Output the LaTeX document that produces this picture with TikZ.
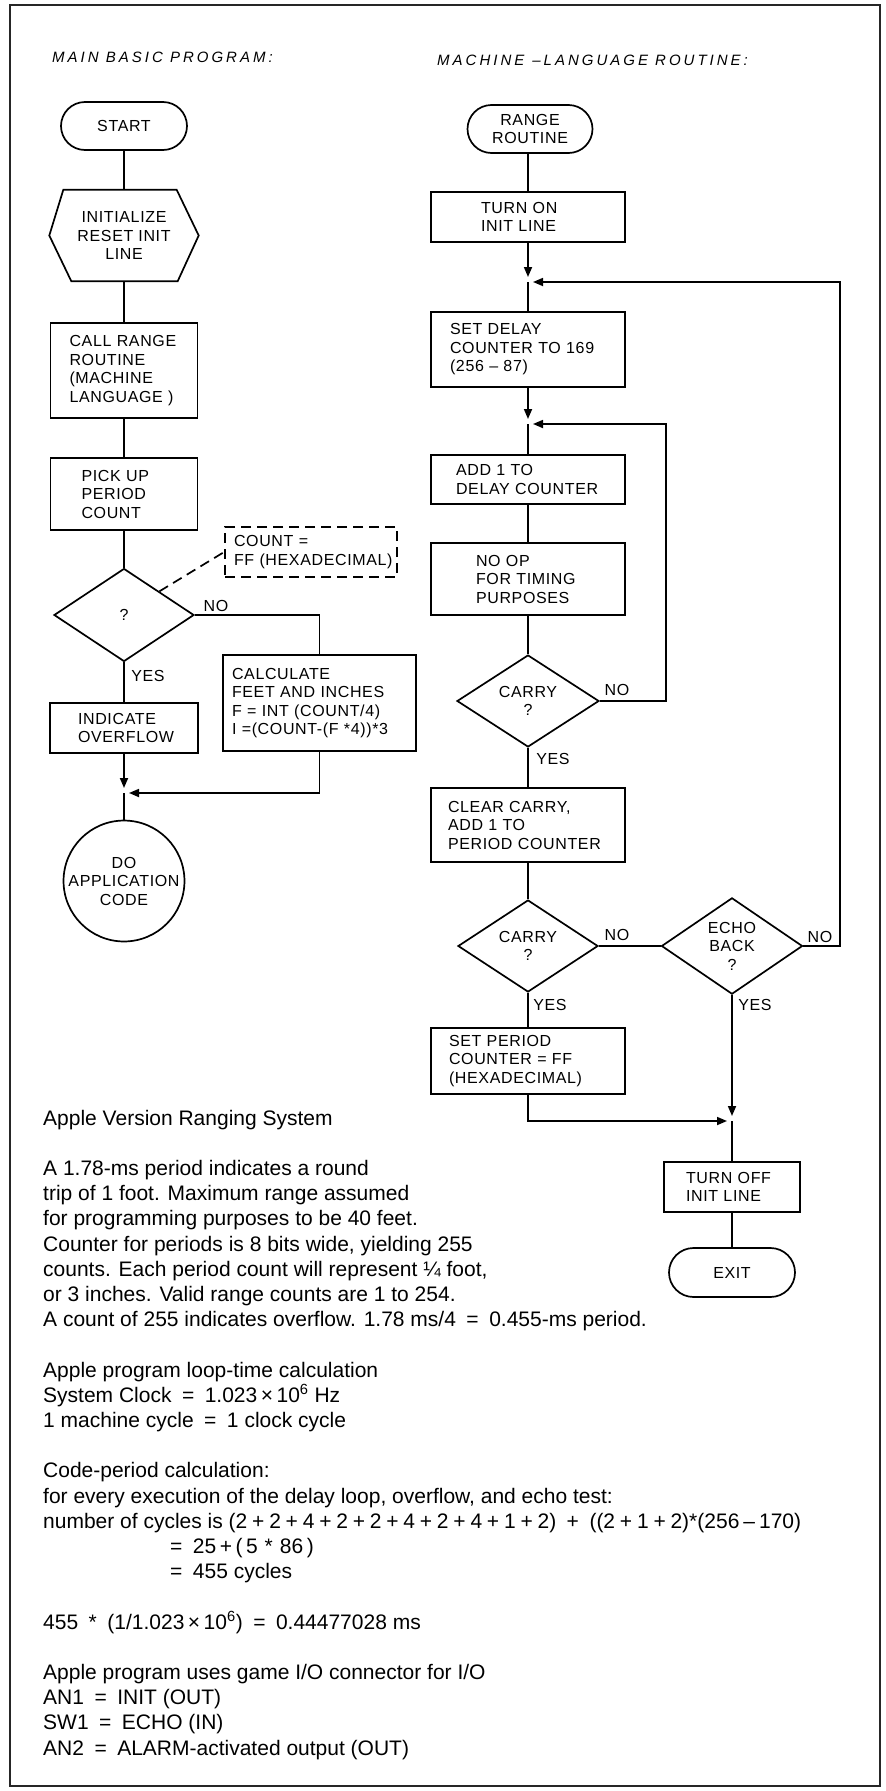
\documentclass[tikz,border=0pt]{standalone}
\usepackage{fontspec}
\setmainfont{Liberation Sans}
\newfontfamily\fcfont[LetterSpace=4]{Liberation Sans}
\newfontfamily\ttlfont[LetterSpace=20]{Liberation Sans}
\usetikzlibrary{shapes.geometric,shapes.misc,arrows.meta,calc}
\newcommand\pl{\kern4.8pt+\kern4.8pt}
\begin{document}
\begin{tikzpicture}[x=1pt,y=-1pt,
  fc/.style={font={\fcfont\fontsize{16}{18.5}\selectfont\hyphenpenalty=10000\exhyphenpenalty=10000\hbadness=10000\hfuzz=200pt}},
  ln/.style={line width=1.7pt},
  arr/.style={ln,-{Triangle[length=10pt,width=8pt]}},
  box/.style={fc,draw,ln,rectangle,align=left,inner ysep=0pt},
  term/.style={fc,draw,ln,rounded rectangle,align=center,inner sep=0pt},
  dec/.style={fc,draw,ln,diamond,align=center,inner sep=0pt},
  lbl/.style={fc,inner sep=0pt},
  ttl/.style={font=\ttlfont\itshape\fontsize{15}{18}\selectfont,anchor=base west,inner sep=0pt},
  body/.style={anchor=base west,inner sep=0pt,font=\fontsize{21}{25}\selectfont}]
\useasboundingbox (0,0) rectangle (886,1791);
\draw[line width=1.2pt,black!85] (10,5) rectangle (880,1786);

% titles
\node[ttl] (tl) at (52,62) {MAIN BASIC PROGRAM:};
\node[ttl] (tr) at (437,65) {MACHINE\kern8pt–\kern3pt LANGUAGE ROUTINE:};

% ---------- left column ----------
\node[term,minimum width=126pt,minimum height=48pt] (start) at (124,126) {START};
\node[fc,align=center,minimum width=149pt,minimum height=91pt,inner sep=0pt] (init) at (124,235.5)
  {INITIALIZE\\RESET~INIT\\LINE};
\draw[ln] ($(init.north west)+(14,0)$) -- ($(init.north east)+(-22,0)$) -- (init.east)
  -- ($(init.south east)+(-21,0)$) -- ($(init.south west)+(22,0)$) -- (init.west) -- cycle;
\node[box,inner xsep=19pt,text width=109pt,minimum height=95pt] (call) at (124,370.5)
  {CALL~RANGE\\ROUTINE\\(MACHINE\\LANGUAGE~)};
\node[box,inner xsep=31pt,text width=85pt,minimum height=72pt] (pick) at (124,494)
  {PICK~UP\\PERIOD\\COUNT};
\node[dec,minimum width=140pt,minimum height=93pt] (q) at (124,615) {?};
\node[box,dash pattern=on 10pt off 6pt,inner xsep=9pt,text width=154pt,minimum height=50pt] (note) at (311,552)
  {COUNT~=\\FF~(HEXADECIMAL)};
\node[box,inner xsep=9pt,text width=175pt,minimum height=96pt] (calc) at (319.5,703)
  {CALCULATE\\FEET~AND~INCHES\\F~=~INT~(COUNT/4)\\I~=(COUNT-(F~*4))*3};
\node[box,inner xsep=28pt,text width=92pt,minimum height=50pt] (ovf) at (124,728)
  {INDICATE\\OVERFLOW};
\node[fc,draw,ln,circle,minimum size=118pt,inner sep=0pt,align=center] (app) at (124,881)
  {DO\\APPLICATION\\CODE};
\coordinate (jl) at (124,793);

\node[lbl] (qno) at (216,606) {NO};
\node[lbl] (qyes) at (148,676) {YES};

\draw[ln] (start.south) -- (init.north);
\draw[ln] (init.south) -- (call.north);
\draw[ln] (call.south) -- (pick.north);
\draw[ln] (pick.south) -- (q.north);
\draw[ln,dash pattern=on 10pt off 6pt] (q.north east) -- (note.west);
\draw[ln] (q.east) -| (calc.north);
\draw[ln] (q.south) -- (ovf.north);
\draw[arr] (ovf.south) -- ($(jl)+(0,-5)$);
\draw[arr] (calc.south) |- ($(jl)+(5,0)$);
\draw[ln] (jl) -- (app.north);

% ---------- right column ----------
\node[term,minimum width=125pt,minimum height=48pt] (rr) at (530,129) {RANGE\\ROUTINE};
\node[box,inner xsep=50pt,text width=94pt,minimum height=50pt] (turnon) at (528,217)
  {TURN~ON\\INIT~LINE};
\coordinate (j1) at (528,282);
\node[box,inner xsep=19pt,text width=156pt,minimum height=75pt] (setdelay) at (528,349.5)
  {SET~DELAY\\COUNTER~TO~169\\(256~–~87)};
\coordinate (j2) at (528,424);
\node[box,inner xsep=25pt,text width=144pt,minimum height=49pt] (add1) at (528,479.5)
  {ADD~1~TO\\DELAY~COUNTER};
\node[box,inner xsep=45pt,text width=104pt,minimum height=72pt] (noop) at (528,579)
  {NO~OP\\FOR~TIMING\\PURPOSES};
\node[dec,minimum width=142pt,minimum height=92pt] (c1) at (528,701) {CARRY\\?};
\node[box,inner xsep=17pt,text width=160pt,minimum height=74pt] (clear) at (528,825)
  {CLEAR~CARRY,\\ADD~1~TO\\PERIOD~COUNTER};
\node[dec,minimum width=140pt,minimum height=92pt] (c2) at (528,946) {CARRY\\?};
\node[dec,minimum width=141pt,minimum height=93pt] (echo) at (732,946) {ECHO\\BACK\\?};
\node[box,inner xsep=18pt,text width=158pt,minimum height=66pt] (setper) at (528,1061)
  {SET~PERIOD\\COUNTER~=~FF\\(HEXADECIMAL)};
\coordinate (j3) at (732,1121);
\node[box,inner xsep=22pt,text width=92pt,minimum height=50pt] (turnoff) at (732,1187)
  {TURN~OFF\\INIT~LINE};
\node[term,minimum width=126pt,minimum height=49pt] (exit) at (732,1272.5) {EXIT};
\coordinate (l1) at (840,282);
\coordinate (l2) at (666,424);

\node[lbl] (c1no) at (617,690) {NO};
\node[lbl] (c1yes) at (553,759) {YES};
\node[lbl] (c2no) at (617,935) {NO};
\node[lbl] (c2yes) at (550,1005) {YES};
\node[lbl] (eno) at (820,937) {NO};
\node[lbl] (eyes) at (755,1005) {YES};

\draw[ln] (rr.south -| turnon.north) -- (turnon.north);
\draw[arr] (turnon.south) -- ($(j1)+(0,-5)$);
\draw[ln] (j1) -- (setdelay.north);
\draw[arr] (setdelay.south) -- ($(j2)+(0,-5)$);
\draw[ln] (j2) -- (add1.north);
\draw[ln] (add1.south) -- (noop.north);
\draw[ln] (noop.south) -- (c1.north);
\draw[arr] (c1.east) -| (l2) -- ($(j2)+(5,0)$);
\draw[ln] (c1.south) -- (clear.north);
\draw[ln] (clear.south) -- (c2.north);
\draw[ln] (c2.east) -- (echo.west);
\draw[arr] (echo.east) -| (l1) -- ($(j1)+(5,0)$);
\draw[ln] (c2.south) -- (setper.north);
\draw[arr] (setper.south) |- ($(j3)+(-5,0)$);
\draw[arr] (echo.south) -- ($(j3)+(0,-5)$);
\draw[ln] (j3) -- (turnoff.north);
\draw[ln] (turnoff.south) -- (exit.north);

% ---------- text ----------
\node[body] (t1) at (43,1125) {Apple Version Ranging System};
\node[body] (t2) at (43,1175.4) {A 1.78-ms period indicates a round};
\node[body] (t3) at (43,1200.6) {trip of 1 foot. Maximum range assumed};
\node[body] (t4) at (43,1225.8) {for programming purposes to be 40 feet.};
\node[body] (t5) at (43,1251) {Counter for periods is 8 bits wide, yielding 255};
\node[body] (t6) at (43,1276.2) {counts. Each period count will represent ¼ foot,};
\node[body] (t7) at (43,1301.4) {or 3 inches. Valid range counts are 1 to 254.};
\node[body] (t8) at (43,1326.6) {A count of 255 indicates overflow. 1.78 ms/4\enspace=\enspace0.455-ms period.};
\node[body] (t9) at (43,1377) {Apple program loop-time calculation};
\node[body] (t10) at (43,1402.2) {System Clock\enspace=\enspace1.023\,×\,10\textsuperscript{6} Hz};
\node[body] (t11) at (43,1427.4) {1 machine cycle\enspace=\enspace1 clock cycle};
\node[body] (t12) at (43,1477.8) {Code-period calculation:};
\node[body] (t13) at (43,1503) {for every execution of the delay loop, overflow, and echo test:};
\node[body] (t14) at (43,1528.2) {number of cycles is (2\pl2\pl4\pl2\pl2\pl4\pl2\pl4\pl1\pl2)\enspace+\enspace((2\pl1\pl2)*(256\kern4pt–\kern4pt170)};
\node[body] (t15) at (170,1553.4) {=\enspace25\,+\,(\,5\,\,*\,\,86\,)};
\node[body] (t16) at (170,1578.6) {=\enspace455 cycles};
\node[body] (t17) at (43,1629) {455\enspace*\enspace(1/1.023\,×\,10\textsuperscript{6})\enspace=\enspace0.44477028 ms};
\node[body] (t18) at (43,1679.4) {Apple program uses game I/O connector for I/O};
\node[body] (t19) at (43,1704.6) {AN1\enspace=\enspace INIT (OUT)};
\node[body] (t20) at (43,1729.8) {SW1\enspace=\enspace ECHO (IN)};
\node[body] (t21) at (43,1755) {AN2\enspace=\enspace ALARM-activated output (OUT)};
\end{tikzpicture}
\end{document}
